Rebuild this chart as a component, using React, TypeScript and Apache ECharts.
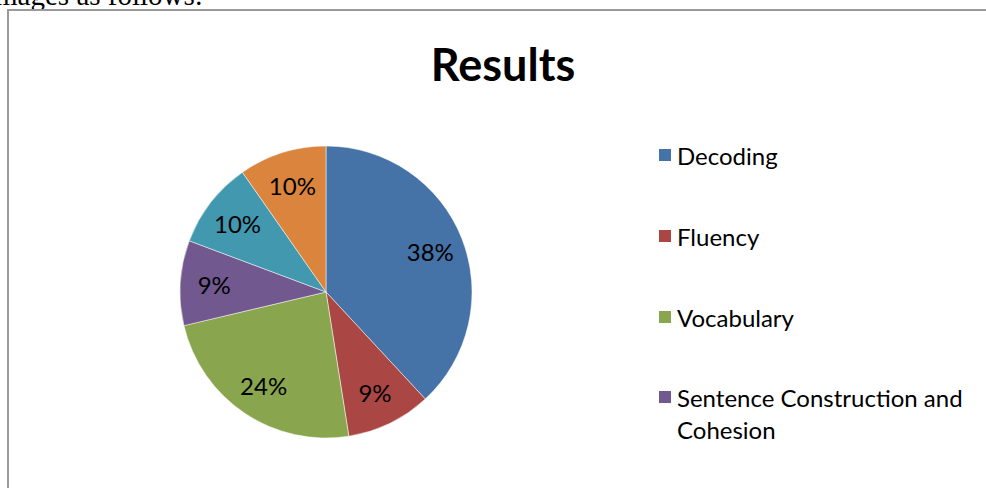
import React, { useEffect, useRef } from "react";
import * as echarts from "echarts";

const categories = [
  "Decoding",
  "Fluency",
  "Vocabulary",
  "Sentence Construction and Cohesion",
  "Comprehension",
  "Spelling",
];
const shares = [38.1, 9.4, 23.8, 9.4, 9.6, 9.7];
const sliceColors = ["#4572A7", "#AA4643", "#89A54E", "#71588F", "#4198AF", "#DB843D"];
const titleText = "Results";
const precedingText = "images as follows:";

const FONT = "Lato, 'Noto Sans', sans-serif";

export default function App() {
  const ref = useRef<HTMLDivElement>(null);

  useEffect(() => {
    if (!ref.current) return;
    const chart = echarts.init(ref.current, null, { renderer: "svg" });
    const data = categories.map((name, i) => ({
      name,
      value: shares[i],
      itemStyle: { color: sliceColors[i] },
    }));
    const labelData = categories.map((name, i) => ({ name, value: shares[i] }));
    const legendText = {
      fontFamily: FONT,
      fontSize: 24,
      color: "#000",
      lineHeight: 32,
    };
    // The wrapped legend entry gets an empty first line so that its first
    // visible line sits level with the colour square, as in the reference.
    const wrapName = (n: string) =>
      n === "Sentence Construction and Cohesion" ? "\nSentence Construction and\nCohesion" : n;

    chart.setOption({
      animation: false,
      title: {
        text: titleText,
        left: "center",
        top: 41,
        padding: 0,
        textStyle: { fontFamily: FONT, fontWeight: "bold", fontSize: 45, color: "#000" },
      },
      legend: [
        {
          orient: "vertical",
          left: 657,
          top: 139,
          padding: 0,
          itemWidth: 14,
          itemHeight: 14,
          itemGap: 49,
          icon: "rect",
          selectedMode: false,
          data: categories.slice(0, 3),
          textStyle: legendText,
          formatter: wrapName,
        },
        {
          orient: "vertical",
          left: 657,
          top: 349,
          padding: 0,
          itemWidth: 14,
          itemHeight: 14,
          itemGap: 49,
          icon: "rect",
          selectedMode: false,
          data: [categories[3]],
          textStyle: legendText,
          formatter: wrapName,
        },
      ],
      series: [
        {
          type: "pie",
          center: [326, 292],
          radius: [0, 146],
          startAngle: 90,
          clockwise: true,
          silent: true,
          label: { show: false },
          labelLine: { show: false },
          itemStyle: { borderColor: "#ffffff", borderWidth: 0.5 },
          data,
        },
        {
          type: "pie",
          center: [326, 292],
          radius: [72, 146],
          startAngle: 90,
          clockwise: true,
          silent: true,
          percentPrecision: 0,
          itemStyle: { color: "rgba(0,0,0,0)", borderWidth: 0 },
          label: {
            show: true,
            position: "inside",
            formatter: "{d}%",
            fontFamily: FONT,
            fontSize: 24,
            color: "#000",
          },
          labelLine: { show: false },
          data: labelData,
        },
      ],
    });
    return () => chart.dispose();
  }, []);

  return (
    <div
      style={{
        position: "fixed",
        left: 0,
        top: 0,
        width: 986,
        height: 488,
        overflow: "hidden",
        background: "#fff",
      }}
    >
      <div
        style={{
          position: "absolute",
          left: -13,
          top: -19,
          fontFamily: "'Liberation Serif', 'DejaVu Serif', serif",
          fontSize: 29,
          lineHeight: "29px",
          whiteSpace: "nowrap",
          color: "#000",
        }}
      >
        {precedingText}
      </div>
      <div
        style={{
          position: "absolute",
          left: 7,
          top: 9,
          width: 1100,
          height: 700,
          border: "2px solid #9a9a9a",
          boxSizing: "border-box",
        }}
      />
      <div
        ref={ref}
        style={{ position: "absolute", left: 0, top: 0, width: 1006, height: 488 }}
      />
    </div>
  );
}
